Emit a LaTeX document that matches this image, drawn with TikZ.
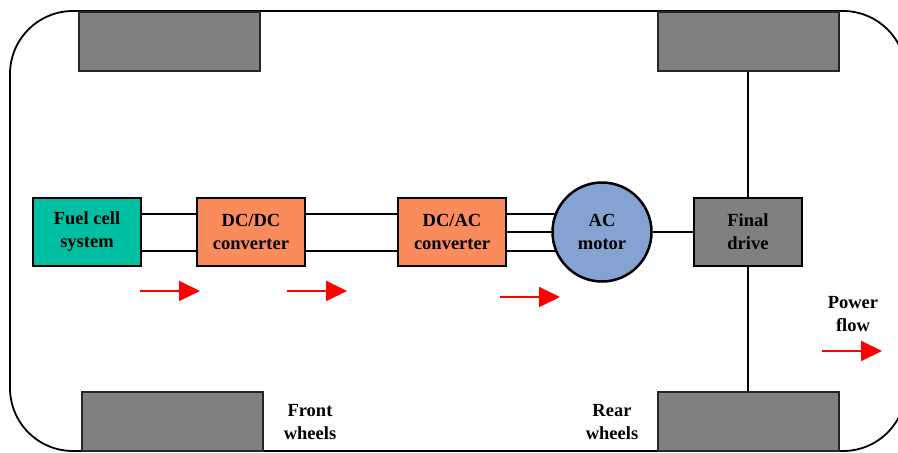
\documentclass[tikz,border=0pt]{standalone}
\usepackage{fontspec}
\setmainfont{Liberation Serif}
\usetikzlibrary{arrows.meta,backgrounds}
\definecolor{fcgreen}{HTML}{00BFA2}
\definecolor{convorange}{HTML}{F98B5D}
\definecolor{motorblue}{HTML}{84A2D2}
\definecolor{wheelgray}{HTML}{808080}
\newcommand{\dgfont}{\bfseries\fontsize{18.5}{23}\selectfont}
\begin{document}
\begin{tikzpicture}[x=1pt,y=-1pt,
  blk/.style={draw=black,line width=2.5pt,minimum width=108pt,minimum height=68pt,inner sep=0pt,align=center,font=\dgfont},
  wheel/.style={draw=black!85,fill=wheelgray,line width=2pt,minimum width=181pt,minimum height=59pt,inner sep=0pt},
  conn/.style={line width=2pt},
  flow/.style={draw=red,line width=2pt,-{Triangle[length=21pt,width=20pt]}},
  lbl/.style={align=center,font=\dgfont,inner sep=0pt}]
\useasboundingbox (0,0) rectangle (898,453);
% chassis outline
\draw[line width=1.8pt,rounded corners=63pt] (10,11) rectangle (906,451);
% wheels
\node[wheel] (wtl) at (169,41) {};
\node[wheel] (wtr) at (748,41) {};
\node[wheel] (wbl) at (172,421.5) {};
\node[wheel] (wbr) at (748,421.5) {};
% blocks
\node[blk,fill=fcgreen] (fc) at (87,232) {Fuel cell\\system};
\node[blk,fill=convorange] (dcdc) at (251,232) {DC/DC\\converter};
\node[blk,fill=convorange] (dcac) at (452,232) {DC/AC\\converter};
\node[draw=black,line width=2.5pt,circle,minimum size=99pt,inner sep=0pt,fill=motorblue,align=center,font=\dgfont] (motor) at (602,232) {AC\\motor};
\node[blk,fill=wheelgray] (fd) at (748,232) {Final\\drive};
% labels
\node[lbl] (front) at (310,422) {Front\\wheels};
\node[lbl] (rear) at (612,422) {Rear\\wheels};
\node[lbl] (power) at (853,314) {Power\\flow};
% connectors
\begin{scope}[on background layer]
  \draw[conn] ([yshift=18.5pt]fc.east) -- ([yshift=18.5pt]dcdc.west);
  \draw[conn] ([yshift=-18.5pt]fc.east) -- ([yshift=-18.5pt]dcdc.west);
  \draw[conn] ([yshift=18.5pt]dcdc.east) -- ([yshift=18.5pt]dcac.west);
  \draw[conn] ([yshift=-18.5pt]dcdc.east) -- ([yshift=-18.5pt]dcac.west);
  \draw[conn] ([yshift=18.5pt]dcac.east) -- ([yshift=18.5pt]dcac.east -| motor.center);
  \draw[conn] (dcac.east) -- (motor.center);
  \draw[conn] ([yshift=-18.5pt]dcac.east) -- ([yshift=-18.5pt]dcac.east -| motor.center);
  \draw[conn] (motor.east) -- (fd.west);
  \draw[conn] (wtr.south) -- (fd.north);
  \draw[conn] (fd.south) -- (wbr.north);
\end{scope}
% power flow arrows
\coordinate (a1s) at (140,291); \coordinate (a1e) at (200,291);
\coordinate (a2s) at (287,291); \coordinate (a2e) at (347,291);
\coordinate (a3s) at (500,297); \coordinate (a3e) at (560,297);
\coordinate (a4s) at (822,351); \coordinate (a4e) at (882,351);
\draw[flow] (a1s) -- (a1e);
\draw[flow] (a2s) -- (a2e);
\draw[flow] (a3s) -- (a3e);
\draw[flow] (a4s) -- (a4e);
\end{tikzpicture}
\end{document}
